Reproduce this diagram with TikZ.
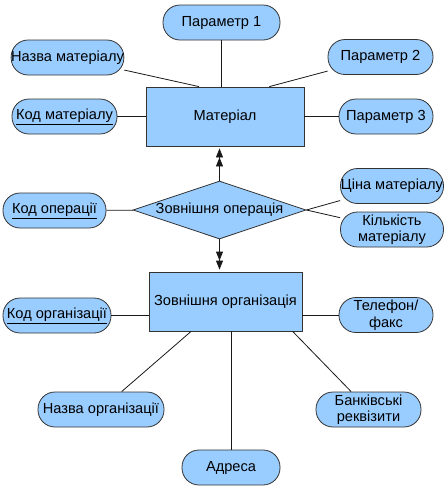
\documentclass[tikz,border=0pt]{standalone}
\usepackage{fontspec}
\setmainfont{Liberation Sans}
\usetikzlibrary{arrows.meta,shapes.geometric}
\definecolor{boxcol}{HTML}{99CCFF}
\definecolor{rimcol}{HTML}{333333}

\begin{document}
\begin{tikzpicture}[x=1pt,y=-1pt,font=\fontsize{14.6}{16.5}\selectfont,
  attr/.style={draw=rimcol,fill=boxcol,line width=0.8pt,rounded corners=17pt,
    minimum height=35pt,inner sep=0pt,align=center},
  ent/.style={draw=rimcol,fill=boxcol,line width=0.8pt,minimum height=59pt,inner sep=0pt},
  rel/.style={draw=rimcol,fill=boxcol,line width=0.8pt,diamond,aspect=3,inner sep=0pt,
    minimum width=173pt,minimum height=58pt},
  link/.style={draw=black!90,line width=0.8pt},
  many/.style={link,-{Triangle[length=9pt,width=7pt]Triangle[length=9pt,width=7pt,sep=1pt]},shorten >=1pt}]
  \useasboundingbox (0,0) rectangle (444,496);
  % entity: material and its attributes
  \node[ent,minimum width=158pt] (mat) at (225,116.5) {Матеріал};
  \node[attr,minimum width=117pt] (par1) at (221.5,22.5) {Параметр 1};
  \node[attr,minimum width=111pt] (nazm) at (67.5,57.5) {Назва матеріалу};
  \node[attr,minimum width=105pt] (par2) at (380.5,57) {Параметр 2};
  \node[attr,minimum width=105pt] (kodm) at (64.5,116.5) {\underline{Код матеріалу}};
  \node[attr,minimum width=94pt] (par3) at (386,116.5) {Параметр 3};
  % relationship: external operation
  \node[rel] (oper) at (219.5,210) {Зовнішня операція};
  \node[attr,minimum width=103pt] (kodop) at (54.5,210.5) {\underline{Код операції}};
  \node[attr,minimum width=103pt] (cina) at (392,186) {Ціна матеріалу};
  \node[attr,minimum width=103pt] (kilk) at (392,229.5) {Кількість\\матеріалу};
  % entity: external organisation
  \node[ent,minimum width=153pt] (org) at (225.5,301.5) {Зовнішня організація};
  \node[attr,minimum width=108pt] (kodorg) at (57,315.5) {\underline{Код організації}};
  \node[attr,minimum width=94pt] (tel) at (386,315) {Телефон/\\факс};
  \node[attr,minimum width=126pt] (nazorg) at (101,409.5) {Назва організації};
  \node[attr,minimum width=98pt] (adr) at (231,467.5) {Адреса};
  \node[attr,minimum width=105pt] (bank) at (368.5,409.5) {Банківські\\реквізити};
  % connectors
  \draw[link] (par1) -- (par1 |- mat.north);
  \draw[link] (nazm) -- (mat.131);
  \draw[link] (par2) -- (mat.34);
  \draw[link] (kodm) -- (mat);
  \draw[link] (par3) -- (mat);
  \draw[link] (kodop) -- (oper);
  \draw[link] (oper.east) -- (cina);
  \draw[link] (oper.east) -- (kilk);
  \draw[many] (oper.north) -- (oper.north |- mat.south);
  \draw[many] (oper.south) -- (oper.south |- org.north);
  \draw[link] (kodorg) -- (kodorg -| org.west);
  \draw[link] (tel) -- (tel -| org.east);
  \draw[link] (nazorg) -- (org);
  \draw[link] (adr) -- (adr |- org.south);
  \draw[link] (bank) -- (org.-24);
\end{tikzpicture}
\end{document}
